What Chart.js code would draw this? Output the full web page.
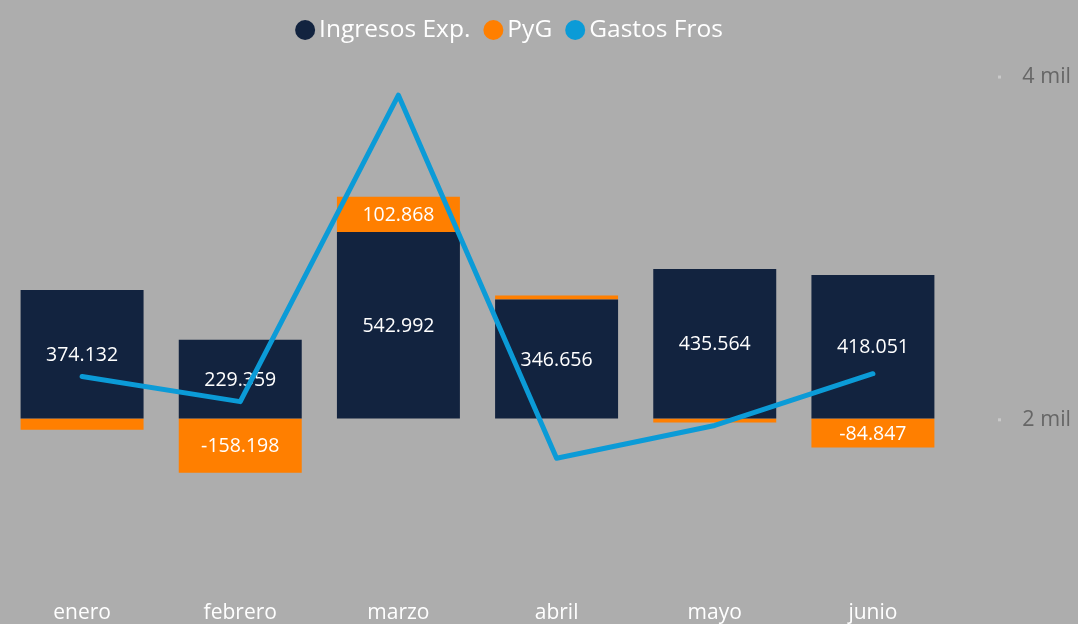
<!DOCTYPE html>
<html>
<head>
<meta charset="utf-8">
<script src="https://cdn.jsdelivr.net/npm/chart.js@4/dist/chart.umd.min.js"></script>
<style>
  html, body { margin: 0; padding: 0; background: #adadad; }
  #wrap { width: 1078px; height: 624px; overflow: hidden; }
  canvas { display: block; }
</style>
</head>
<body>
<div id="wrap"><canvas id="c" width="1078" height="624"></canvas></div>
<script>
const categories = ['enero', 'febrero', 'marzo', 'abril', 'mayo', 'junio'];
const ingresosExp = [374132, 229359, 542992, 346656, 435564, 418051];
const pyg = [-33000, -158198, 102868, 11700, -11700, -84847];
const gastosFros = [2253, 2106, 3894, 1776, 1967, 2269];
const rightTicks = [2000, 4000];
const seriesNames = ['Ingresos Exp.', 'PyG', 'Gastos Fros'];

const FONT = "'Open Sans', 'Noto Sans', sans-serif";
const NAVY = '#12233f', ORANGE = '#ff7f00', BLUE = '#0b9bd7';

function fmtThousands(v) {
  const s = Math.abs(Math.round(v)).toString().replace(/\B(?=(\d{3})+(?!\d))/g, '.');
  return (v < 0 ? '-' : '') + s;
}

const barLabels = {
  id: 'barLabels',
  afterDatasetDraw(chart, args) {
    const ds = chart.data.datasets[args.index];
    if (ds.type !== 'bar') return;
    const ctx = chart.ctx;
    ctx.save();
    ctx.font = '19.5px ' + FONT;
    ctx.fillStyle = '#ffffff';
    ctx.textAlign = 'center';
    ctx.textBaseline = 'middle';
    args.meta.data.forEach((el, i) => {
      const p = el.getProps(['x', 'y', 'base'], true);
      const h = Math.abs(p.base - p.y);
      if (h < 22) return;
      ctx.fillText(fmtThousands(ds.data[i]), p.x, (p.y + p.base) / 2 + 1);
    });
    ctx.restore();
  }
};

const axisDots = {
  id: 'axisDots',
  afterDraw(chart) {
    const s = chart.scales.y1;
    const ctx = chart.ctx;
    ctx.save();
    ctx.fillStyle = '#c9c9c9';
    s.ticks.forEach(t => {
      const py = s.getPixelForValue(t.value);
      ctx.fillRect(998, py - 1.5, 3, 3);
    });
    ctx.restore();
  }
};

new Chart(document.getElementById('c'), {
  type: 'bar',
  data: {
    labels: categories,
    datasets: [
      { type: 'bar', label: seriesNames[0], data: ingresosExp, backgroundColor: NAVY, borderWidth: 0, yAxisID: 'y', order: 1 },
      { type: 'bar', label: seriesNames[1], data: pyg, backgroundColor: ORANGE, borderWidth: 0, yAxisID: 'y', order: 1 },
      { type: 'line', label: seriesNames[2], data: gastosFros, borderColor: BLUE, backgroundColor: BLUE,
        borderWidth: 5, pointRadius: 0, pointHoverRadius: 0, pointBorderWidth: 0, pointBackgroundColor: BLUE,
        borderJoinStyle: 'round', borderCapStyle: 'round', tension: 0, yAxisID: 'y1', order: 0 }
    ]
  },
  options: {
    responsive: false,
    animation: false,
    devicePixelRatio: 1,
    layout: { padding: { left: 3, right: 54.75, top: -3.5, bottom: -2 } },
    datasets: { bar: { categoryPercentage: 1, barPercentage: 0.7775 } },
    plugins: {
      tooltip: { enabled: false },
      legend: {
        position: 'top',
        align: 'center',
        labels: {
          usePointStyle: true,
          pointStyle: 'circle',
          boxWidth: 3.5,
          boxHeight: 14.142,
          padding: 21.25,
          color: '#ffffff',
          font: { family: FONT, size: 24.5 },
          sort: (a, b) => a.datasetIndex - b.datasetIndex,
          generateLabels(chart) {
            const items = Chart.defaults.plugins.legend.labels.generateLabels(chart);
            items.forEach(it => { it.lineWidth = 0; it.strokeStyle = 'rgba(0,0,0,0)'; });
            return items;
          }
        }
      }
    },
    scales: {
      x: {
        stacked: true,
        grid: { display: false, drawTicks: false },
        border: { display: false },
        ticks: { color: '#ffffff', font: { family: FONT, size: 21 }, padding: 0, maxRotation: 0, autoSkip: false }
      },
      y: {
        display: false,
        stacked: true,
        min: -531095,
        max: 1067007
      },
      y1: {
        position: 'right',
        min: 943.9,
        max: 4144.7,
        grid: { display: false, drawTicks: false },
        border: { display: false },
        afterBuildTicks(scale) { scale.ticks = rightTicks.map(v => ({ value: v })); },
        afterFit(scale) { scale.width = 71.25; scale.paddingTop = 0; scale.paddingBottom = 0; },
        ticks: {
          color: '#666666',
          mirror: true,
          crossAlign: 'near',
          padding: 119,
          font: { family: FONT, size: 21.5 },
          callback: v => (v / 1000) + ' mil'
        }
      }
    }
  },
  plugins: [barLabels, axisDots]
});
</script>
</body>
</html>
